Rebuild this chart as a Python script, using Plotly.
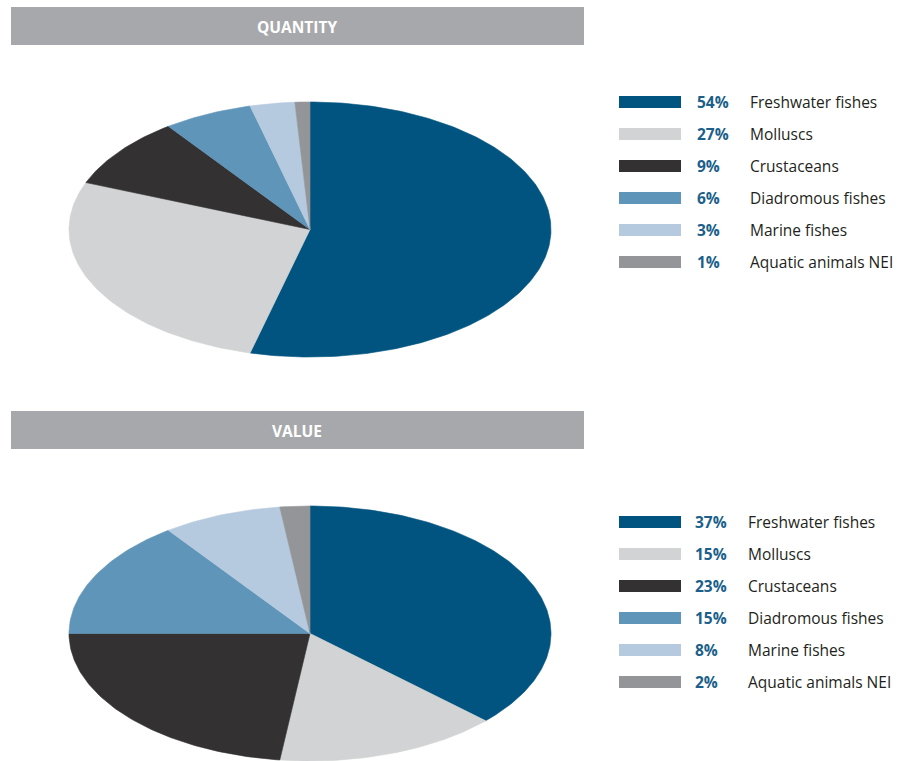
import numpy as np
import plotly.graph_objects as go

# Category names and colours shared by both pies
categories = ["Freshwater fishes", "Molluscs", "Crustaceans",
              "Diadromous fishes", "Marine fishes", "Aquatic animals NEI"]
colors = ["#00547f", "#d1d3d4", "#333132", "#5f95b9", "#b5cadf", "#939598"]

# Shares (%) by quantity and by value
quantity_pct = [54, 27, 9, 6, 3, 1]
value_pct = [37, 15, 23, 15, 8, 2]

panel_titles = ["QUANTITY", "VALUE"]

W, H = 904, 761
fig = go.Figure()


def add_pie(values, cx, cy, rx, ry):
    """Elliptical pie: slices clockwise from 12 o'clock."""
    total = float(sum(values))
    start = 0.0
    for name, val, col in zip(categories, values, colors):
        frac = val / total
        n = max(4, int(frac * 400))
        ang = np.linspace(start, start + frac, n) * 2 * np.pi
        xs = np.concatenate([[cx], cx + rx * np.sin(ang), [cx]])
        ys = np.concatenate([[cy], cy - ry * np.cos(ang), [cy]])
        fig.add_trace(go.Scatter(
            x=xs, y=ys, mode="lines", fill="toself", fillcolor=col,
            line=dict(color=col, width=0.6), name=name,
            hoverinfo="name", showlegend=False))
        start += frac


def add_panel(title, values, top, legend_top, pct_x, name_x):
    # header band
    fig.add_shape(type="rect", xref="x", yref="y", x0=11, x1=584,
                  y0=top + 7, y1=top + 45, fillcolor="#a7a8ab",
                  line=dict(width=0), layer="below")
    fig.add_annotation(x=297, y=top + 27, xref="x", yref="y", text=f"<b>{title}</b>",
                       showarrow=False, font=dict(family="Open Sans", size=15.5, color="white"))
    add_pie(values, 310, top + 229.5, 241, 127.5)
    # legend rows
    for i, (name, val, col) in enumerate(zip(categories, values, colors)):
        yy = legend_top + 32 * i
        fig.add_shape(type="rect", xref="x", yref="y", x0=619, x1=681,
                      y0=yy - 6, y1=yy + 6, fillcolor=col, line=dict(width=0))
        fig.add_annotation(x=pct_x, y=yy, xref="x", yref="y", text=f"<b>{val}%</b>",
                           xanchor="left", showarrow=False,
                           font=dict(family="Open Sans", size=15.5, color="#1b5f8a"))
        fig.add_annotation(x=name_x, y=yy, xref="x", yref="y", text=name,
                           xanchor="left", showarrow=False,
                           font=dict(family="Open Sans", size=15.5, color="#231f20"))


add_panel(panel_titles[0], quantity_pct, 0, 102, 695, 748)
add_panel(panel_titles[1], value_pct, 404, 522, 693, 746)

fig.update_layout(
    width=W, height=H, margin=dict(l=0, r=0, t=0, b=0),
    paper_bgcolor="white", plot_bgcolor="white",
    xaxis=dict(range=[0, W], visible=False, fixedrange=True),
    yaxis=dict(range=[H, 0], visible=False, fixedrange=True),
)

fig.write_html("out.html")
